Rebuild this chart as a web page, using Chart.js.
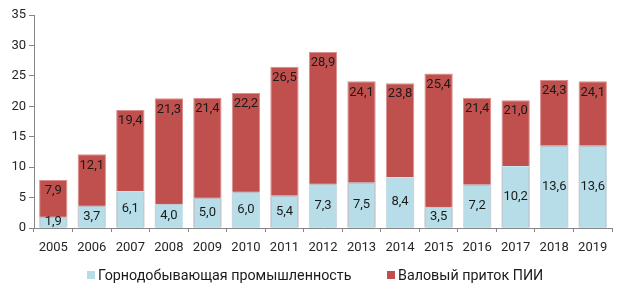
<!DOCTYPE html>
<html><head><meta charset="utf-8">
<script src="https://cdn.jsdelivr.net/npm/chart.js@4"></script>
<style>
html,body{margin:0;padding:0;background:#fff;}
#wrap{position:relative;width:626px;height:297px;}
canvas{display:block;}
.leg{position:absolute;top:266px;height:18px;display:flex;align-items:center;font-family:Roboto,sans-serif;font-size:14.3px;color:#1a1a1a;white-space:nowrap;}
.box{display:inline-block;width:8px;height:8px;margin-right:3px;}
</style></head>
<body>
<div id="wrap">
<canvas id="c" width="626" height="297" style="width:626px;height:297px"></canvas>
<div class="leg" style="left:87px"><span class="box" style="background:#B7DEE8"></span><span id="l1"></span></div>
<div class="leg" style="left:387px"><span class="box" style="background:#C0504D"></span><span id="l2"></span></div>
</div>
<script>
const years = ['2005','2006','2007','2008','2009','2010','2011','2012','2013','2014','2015','2016','2017','2018','2019'];
const mining = [1.9,3.7,6.1,4.0,5.0,6.0,5.4,7.3,7.5,8.4,3.5,7.2,10.2,13.6,13.6];
const grossFDI = [7.9,12.1,19.4,21.3,21.4,22.2,26.5,28.9,24.1,23.8,25.4,21.4,21.0,24.3,24.1];
const seriesNames = ['Горнодобывающая промышленность','Валовый приток ПИИ'];
const yTicks = [0,5,10,15,20,25,30,35];

document.getElementById('l1').textContent = seriesNames[0];
document.getElementById('l2').textContent = seriesNames[1];

const FONT = 'Roboto';
const labelPlugin = {
  id: 'vals',
  afterDatasetsDraw(chart) {
    const ctx = chart.ctx;
    ctx.save();
    ctx.font = '13px ' + FONT;
    ctx.fillStyle = '#1a1a1a';
    ctx.textAlign = 'center';
    ctx.textBaseline = 'middle';
    chart.data.datasets.forEach((ds, di) => {
      const meta = chart.getDatasetMeta(di);
      meta.data.forEach((bar, i) => {
        const txt = ds.data[i].toFixed(1).replace('.', ',');
        const y = di === 0 ? (bar.y + bar.base) / 2 : bar.y + 11;
        ctx.fillText(txt, bar.x, y);
      });
    });
    ctx.restore();
  }
};

new Chart(document.getElementById('c'), {
  type: 'bar',
  data: {
    labels: years,
    datasets: [
      {label: seriesNames[0], data: mining, backgroundColor: '#B7DEE8', borderColor: '#C9E6EE', borderWidth: 1, grouped: false, categoryPercentage: 1, barPercentage: 0.735},
      {label: seriesNames[1], data: grossFDI, backgroundColor: '#C0504D', borderColor: '#D98F8D', borderWidth: 1, grouped: false, categoryPercentage: 1, barPercentage: 0.735}
    ]
  },
  options: {
    responsive: false,
    animation: false,
    layout: {padding: {top: 15, right: 14, bottom: 39, left: 0}},
    plugins: {legend: {display: false}, tooltip: {enabled: false}},
    scales: {
      x: {
        grid: {display: true, drawOnChartArea: false, drawTicks: true, tickLength: 4, color: '#868686', offset: true},
        border: {display: true, color: '#868686'},
        ticks: {font: {family: FONT, size: 13}, color: '#262626', padding: 8},
        afterFit: s => { s.height = 30; }
      },
      y: {
        min: 0, max: 35,
        afterBuildTicks: s => { s.ticks = yTicks.map(v => ({value: v})); },
        grid: {display: true, drawOnChartArea: false, drawTicks: true, tickLength: 5, color: '#868686'},
        border: {display: true, color: '#868686'},
        ticks: {font: {family: FONT, size: 13}, color: '#262626', padding: 3},
        afterFit: s => { s.width = 34; }
      }
    }
  },
  plugins: [labelPlugin]
});
</script>
</body></html>
